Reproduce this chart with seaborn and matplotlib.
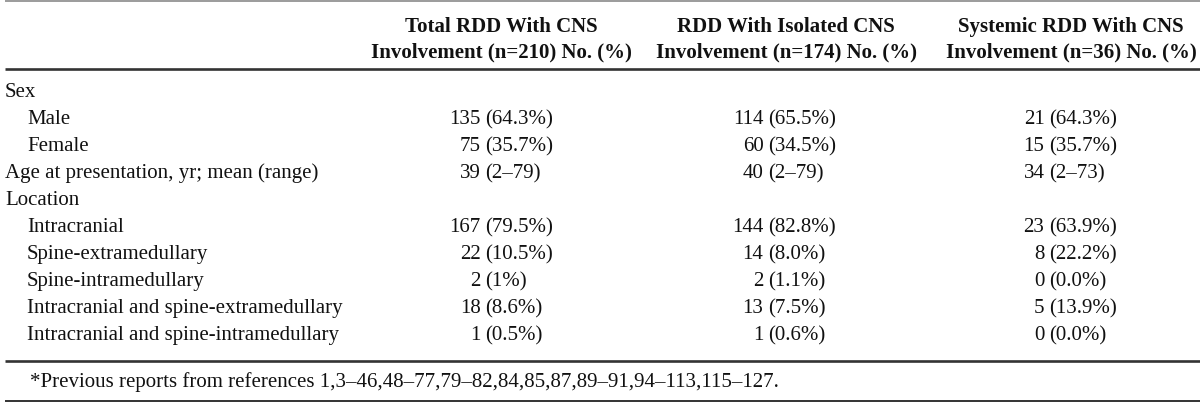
import matplotlib
matplotlib.use("Agg")
import matplotlib.pyplot as plt
import seaborn as sns

# ─────────────────────────────────────────────
# TABLE CONTENT
# ─────────────────────────────────────────────
col_headers = [
    "Total RDD With CNS\nInvolvement (n=210) No. (%)",
    "RDD With Isolated CNS\nInvolvement (n=174) No. (%)",
    "Systemic RDD With CNS\nInvolvement (n=36) No. (%)",
]

row_labels = [
    "Sex",
    "Male",
    "Female",
    "Age at presentation, yr; mean (range)",
    "Location",
    "Intracranial",
    "Spine-extramedullary",
    "Spine-intramedullary",
    "Intracranial and spine-extramedullary",
    "Intracranial and spine-intramedullary",
]
row_indent = [0, 1, 1, 0, 0, 1, 1, 1, 1, 1]

total_cns = [None, "135 (64.3%)", "75 (35.7%)", "39 (2–79)", None,
             "167 (79.5%)", "22 (10.5%)", "2 (1%)", "18 (8.6%)", "1 (0.5%)"]
isolated_cns = [None, "114 (65.5%)", "60 (34.5%)", "40 (2–79)", None,
                "144 (82.8%)", "14 (8.0%)", "2 (1.1%)", "13 (7.5%)", "1 (0.6%)"]
systemic_cns = [None, "21 (64.3%)", "15 (35.7%)", "34 (2–73)", None,
                "23 (63.9%)", "8 (22.2%)", "0 (0.0%)", "5 (13.9%)", "0 (0.0%)"]

footnote = ("*Previous reports from references 1,3–46,48–77,79–82,84,85,87,"
            "89–91,94–113,115–127.")

# ─────────────────────────────────────────────
# LAYOUT (pixels)
# ─────────────────────────────────────────────
W, H = 1200, 403
FS = 15
header_x = [501, 786, 1071]
paren_x = [485, 768, 1049]
row_y0, row_dy = 97, 27
label_x, indent_dx = 5, 22
ink = "#111111"

sns.set_theme(style="white")
plt.rcParams["font.family"] = ["Liberation Serif", "DejaVu Serif"]

fig = plt.figure(figsize=(W / 100, H / 100), dpi=100)
ax = fig.add_axes([0, 0, 1, 1])
ax.set_xlim(0, W)
ax.set_ylim(H, 0)
ax.axis("off")

# rules
ax.hlines(1, 5, W, color="#8a8a8a", lw=1.2)
ax.hlines(68.5, 5, W, color="#333333", lw=1.9)
ax.hlines(361, 5, W, color="#333333", lw=1.9)
ax.hlines(401, 5, W, color="#333333", lw=1.4)

# column headers
for hx, txt in zip(header_x, col_headers):
    top, bottom = txt.split("\n")
    ax.text(hx, 32, top, ha="center", va="baseline", fontsize=FS,
            fontweight="bold", color=ink)
    ax.text(hx, 57, bottom, ha="center", va="baseline", fontsize=FS,
            fontweight="bold", color=ink)

# body rows: count right-aligned, bracket part left-aligned
columns = [total_cns, isolated_cns, systemic_cns]
for i, (lab, ind) in enumerate(zip(row_labels, row_indent)):
    y = row_y0 + i * row_dy
    ax.text(label_x + ind * indent_dx, y, lab, ha="left", va="baseline",
            fontsize=FS, color=ink)
    for px, vals in zip(paren_x, columns):
        v = vals[i]
        if v is None:
            continue
        num, rest = v.split(" ", 1)
        ax.text(px - 4.5, y, num, ha="right", va="baseline", fontsize=FS, color=ink)
        ax.text(px, y, rest, ha="left", va="baseline", fontsize=FS, color=ink)

ax.text(30, 387, footnote, ha="left", va="baseline", fontsize=FS, color=ink)

fig.savefig("out.png", dpi=100)
plt.close(fig)
